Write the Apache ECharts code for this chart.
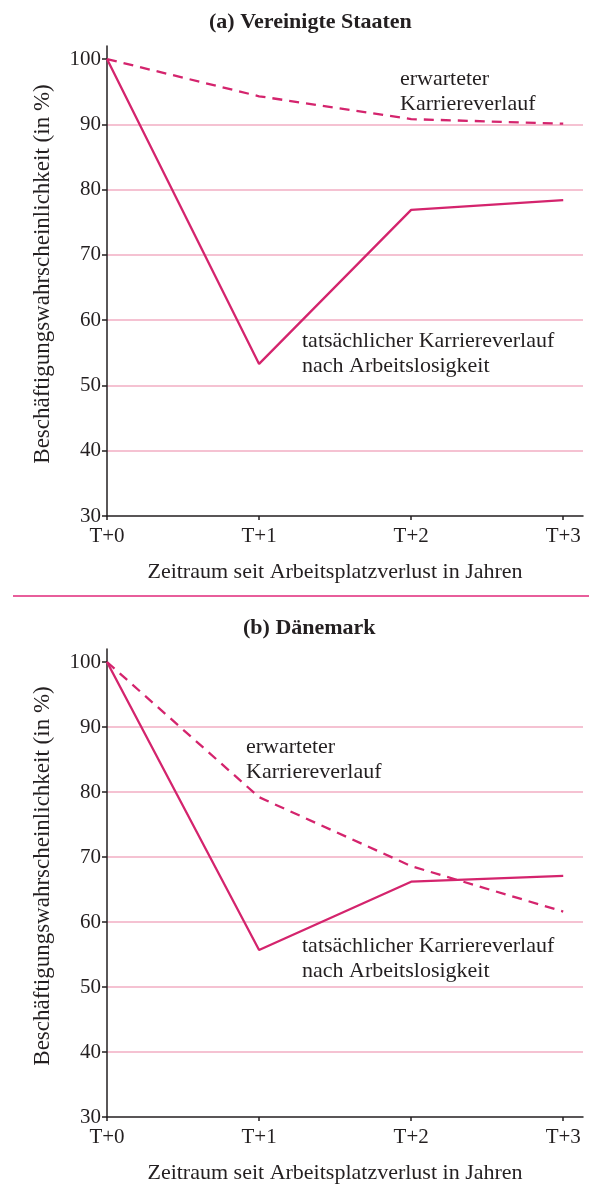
<!DOCTYPE html>
<html>
<head>
<meta charset="utf-8">
<script src="https://cdn.jsdelivr.net/npm/echarts@6/dist/echarts.min.js"></script>
<style>
html, body { margin: 0; padding: 0; background: #fff; }
#main { width: 589px; height: 1185px; }
</style>
</head>
<body>
<div id="main"></div>
<script>
// Daten
var periods = [0, 1, 2, 3];
var periodLabels = ['T+0', 'T+1', 'T+2', 'T+3'];
var usActual = [100, 53.3, 76.9, 78.4];
var usExpected = [100, 94.3, 90.8, 90.1];
var dkActual = [100, 55.7, 66.2, 67.1];
var dkExpected = [100, 79.2, 68.6, 61.6];
var yTicks = [30, 40, 50, 60, 70, 80, 90, 100];

var pink = '#d4246d';
var ink = '#231f20';
var font = '"Liberation Serif", "DejaVu Serif", serif';

function pairs(vals) {
    return periods.map(function (p, i) { return [p, vals[i]]; });
}

function xAxis(idx) {
    return {
        type: 'value', gridIndex: idx, min: 0, max: 3.13,
        name: 'Zeitraum seit Arbeitsplatzverlust in Jahren',
        nameLocation: 'middle', nameGap: 45,
        nameTextStyle: { color: ink, fontFamily: font, fontSize: 22, padding: [0, 20, 0, 0] },
        axisLine: { lineStyle: { color: ink, width: 1.5 } },
        axisTick: { customValues: periods, length: 4, lineStyle: { color: ink, width: 1.5 } },
        axisLabel: {
            customValues: periods, margin: 10, color: ink, fontFamily: font, fontSize: 21,
            formatter: function (v) { return periodLabels[Math.round(v)]; }
        },
        splitLine: { show: false }
    };
}

function yAxis(idx) {
    return {
        type: 'value', gridIndex: idx, min: 30, max: 102, interval: 10,
        name: 'Beschäftigungswahrscheinlichkeit (in %)',
        nameLocation: 'middle', nameGap: 53,
        nameTextStyle: { color: ink, fontFamily: font, fontSize: 23, padding: [0, 0, 0, 14] },
        axisLine: { show: true, lineStyle: { color: ink, width: 1.5 } },
        axisTick: { show: true, customValues: yTicks, length: 5, lineStyle: { color: ink, width: 1.5 } },
        axisLabel: { customValues: yTicks, margin: 6, color: ink, fontFamily: font, fontSize: 21 },
        splitLine: { show: true, showMinLine: false, showMaxLine: false, lineStyle: { color: '#f2aec3', width: 1.5 } }
    };
}

function line(idx, vals, dashed) {
    return {
        type: 'line', xAxisIndex: idx, yAxisIndex: idx, data: pairs(vals),
        symbol: 'none', silent: true,
        lineStyle: { color: pink, width: 2.3, type: dashed ? [10, 7] : 'solid' }
    };
}

function note(x, y, text) {
    return {
        type: 'text', left: x, top: y,
        style: { text: text, fill: ink, font: '22px ' + font, lineHeight: 25 }
    };
}

var chart = echarts.init(document.getElementById('main'));
chart.setOption({
    animation: false,
    title: [
        { text: '(a) Vereinigte Staaten', left: 204, top: 6,
          textStyle: { color: ink, fontFamily: font, fontSize: 22, fontWeight: 'bold' } },
        { text: '(b) Dänemark', left: 238, top: 612,
          textStyle: { color: ink, fontFamily: font, fontSize: 22, fontWeight: 'bold' } }
    ],
    grid: [
        { left: 107, top: 46, width: 476, height: 470 },
        { left: 107, top: 649, width: 476, height: 469 }
    ],
    xAxis: [xAxis(0), xAxis(1)],
    yAxis: [yAxis(0), yAxis(1)],
    series: [
        line(0, usExpected, true),
        line(0, usActual, false),
        line(1, dkExpected, true),
        line(1, dkActual, false)
    ],
    graphic: [
        { type: 'line', shape: { x1: 13, y1: 596, x2: 589, y2: 596 },
          style: { stroke: '#e0287a', lineWidth: 1.5 } },
        note(400, 67, 'erwarteter\nKarriereverlauf'),
        note(302, 329, 'tatsächlicher Karriereverlauf\nnach Arbeitslosigkeit'),
        note(246, 735, 'erwarteter\nKarriereverlauf'),
        note(302, 934, 'tatsächlicher Karriereverlauf\nnach Arbeitslosigkeit')
    ]
});
</script>
</body>
</html>
